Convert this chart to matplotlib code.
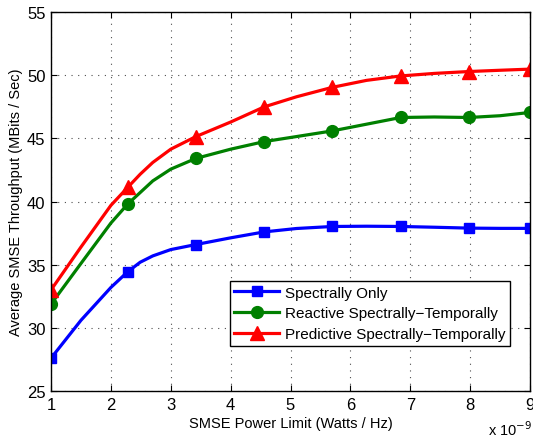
import numpy as np
import matplotlib
matplotlib.use("Agg")
import matplotlib.pyplot as plt

### data (power in units of 1e-9 W/Hz, throughput in MBits/Sec)
power = [1, 1.5, 2, 2.28, 2.49, 2.7, 3, 3.42, 4, 4.56, 5.1, 5.7, 6.27, 6.84, 7.4, 7.98, 8.5, 9]
spectral_only = [27.6, 30.6, 33.2, 34.44, 35.2, 35.7, 36.2, 36.6, 37.13, 37.6, 37.87,
                 38.03, 38.05, 38.03, 37.97, 37.9, 37.88, 37.88]
reactive = [31.88, 35.1, 38.3, 39.8, 40.72, 41.64, 42.57, 43.42, 44.15, 44.75, 45.15,
            45.6, 46.13, 46.66, 46.7, 46.66, 46.8, 47.06]
predictive = [33.0, 36.4, 39.7, 41.12, 42.17, 43.1, 44.15, 45.15, 46.3, 47.5, 48.3,
              49.05, 49.6, 49.95, 50.15, 50.3, 50.4, 50.49]
# simulated points (where markers go)
marker_idx = [0, 3, 7, 9, 11, 13, 15, 17]

labels = ['Spectrally Only', 'Reactive Spectrally\u2212Temporally', 'Predictive Spectrally\u2212Temporally']

plt.rcParams['font.family'] = ['Liberation Sans', 'DejaVu Sans']

fig = plt.figure(figsize=(5.33, 4.39), dpi=100)
ax = fig.add_axes([0.0957, 0.107, 0.8987, 0.863])

ax.plot(power, spectral_only, color=(0, 0, 1), lw=2.3, marker='s', ms=7.5,
        markevery=marker_idx, label=labels[0])
ax.plot(power, reactive, color=(0, 0.5, 0), lw=2.3, marker='o', ms=8.5,
        markevery=marker_idx, label=labels[1])
ax.plot(power, predictive, color=(1, 0, 0), lw=2.3, marker='^', ms=9.5,
        markevery=marker_idx, label=labels[2])

ax.set_xlim(1, 9)
ax.set_ylim(25, 55)
ax.set_xticks(range(1, 10))
ax.set_yticks(range(25, 56, 5))
ax.grid(True, linestyle=(0, (1, 5)), color='black', lw=0.8, alpha=0.7)
ax.tick_params(direction='in', top=True, right=True, labelsize=12, length=4, pad=4)
for s in ax.spines.values():
    s.set_linewidth(1.0)

ax.set_xlabel('SMSE Power Limit (Watts / Hz)', fontsize=10.5, labelpad=3)
ax.set_ylabel('Average SMSE Throughput (MBits / Sec)', fontsize=10.5, labelpad=3)
ax.text(0.912, -0.098, 'x 10$^{-9}$', transform=ax.transAxes, fontsize=10.5, ha='left', va='center')

leg = ax.legend(loc='lower right', bbox_to_anchor=(0.958, 0.119), borderaxespad=0,
                fontsize=11, fancybox=False, framealpha=1, edgecolor='black',
                handlelength=2.9, handletextpad=0.4, labelspacing=0.45, borderpad=0.3)
leg.get_frame().set_linewidth(1.0)

fig.savefig('out.png', dpi=100)
